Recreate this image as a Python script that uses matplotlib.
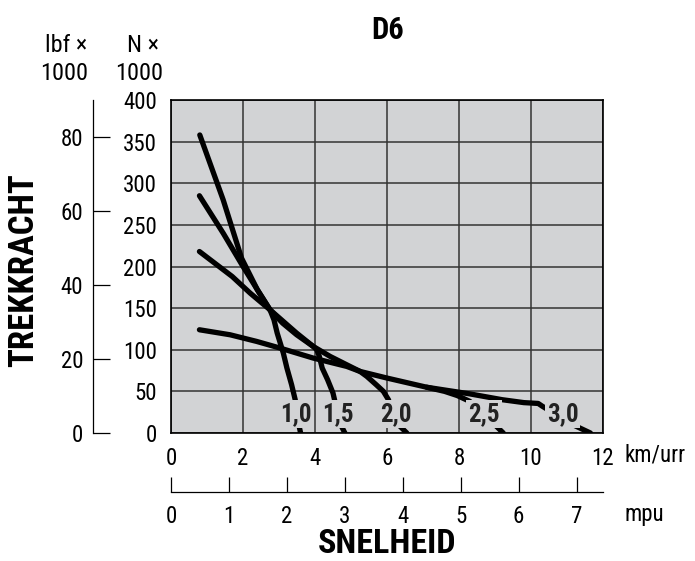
import matplotlib
matplotlib.use('Agg')
import matplotlib.pyplot as plt

plt.rcParams['font.family'] = ['Liberation Sans Narrow', 'DejaVu Sans Condensed',
                               'Roboto Condensed', 'Liberation Sans', 'DejaVu Sans']

# tractive force (kN) vs speed (km/h), one curve per gear
gear_labels = ['1,0', '1,5', '2,0', '2,5', '3,0']

speed_10 = [0.80, 1.45, 1.96, 2.40, 2.75, 2.86, 2.95, 3.12, 3.22, 3.35, 3.45, 3.54, 3.60]
force_10 = [358, 280, 210, 172, 148, 136, 120, 96, 78, 58, 40, 12, 0]

speed_15 = [0.79, 1.45, 2.00, 2.40, 2.75, 3.10, 3.49, 3.95, 4.05, 4.12, 4.20, 4.35, 4.50, 4.69, 4.83]
force_15 = [285, 240, 200, 172, 148, 132, 118, 104, 100, 92, 78, 64, 48, 12, 0]

speed_20 = [0.79, 1.70, 2.20, 2.75, 3.49, 3.95, 4.42, 4.88, 5.25, 5.44, 5.70, 5.90, 6.04, 6.27, 6.55]
force_20 = [218, 188, 168, 148, 120, 104, 92, 82, 74, 68, 58, 50, 40, 12, 0]

speed_25 = [7.10, 7.60, 7.95, 8.30, 9.05, 9.23]
force_25 = [55, 50, 45, 38, 7.6, 0]

speed_30 = [0.79, 1.64, 2.38, 3.03, 3.95, 4.88, 5.25, 6.00, 7.10, 8.30, 9.20, 9.80, 10.20, 10.32, 11.18, 11.65]
force_30 = [124, 118, 110, 102, 90, 80, 74, 66, 55, 47, 40, 36.5, 35.5, 32, 9.6, 0]

# where the gear labels sit (km/h, kN)
label_x = [3.47, 4.65, 6.25, 8.70, 10.88]
label_y = [23, 23, 23, 23, 23]

kmh_ticks = [0, 2, 4, 6, 8, 10, 12]
kn_ticks = [0, 50, 100, 150, 200, 250, 300, 350, 400]
mph_ticks = [0, 1, 2, 3, 4, 5, 6, 7]
klbf_ticks = [0, 20, 40, 60, 80]

KMH_PER_MPH = 1.609344
KN_PER_KLBF = 4.448222

bg = '#d2d3d5'
fs = 16.5

fig = plt.figure(figsize=(6.95, 5.61), dpi=100)
ax = fig.add_axes([171 / 695, 1 - 433 / 561, 432 / 695, 333 / 561])
ax.set_facecolor(bg)
ax.set_xlim(0, 12)
ax.set_ylim(0, 400)
ax.set_xticks(kmh_ticks)
ax.set_yticks(kn_ticks)
ax.grid(True, color='#333333', linewidth=1.1)
ax.set_axisbelow(True)
for s in ax.spines.values():
    s.set_linewidth(1.2)
ax.tick_params(axis='both', length=0, labelsize=fs)
ax.tick_params(axis='x', pad=10)
ax.tick_params(axis='y', pad=10)

curves = [(speed_10, force_10), (speed_15, force_15), (speed_20, force_20),
          (speed_25, force_25), (speed_30, force_30)]
for xs, ys in curves:
    ax.plot(xs, ys, color='black', linewidth=3.8, solid_capstyle='round',
            solid_joinstyle='round', zorder=3)

for lab, lx, ly in zip(gear_labels, label_x, label_y):
    ax.text(lx, ly, lab, ha='center', va='center', fontsize=18, fontweight='bold',
            color='#222222', zorder=4,
            bbox=dict(facecolor=bg, edgecolor='none', pad=1.5))

# mph axis below
sec_x = ax.secondary_xaxis(-0.177, functions=(lambda v: v / KMH_PER_MPH,
                                              lambda v: v * KMH_PER_MPH))
sec_x.set_xticks(mph_ticks)
sec_x.tick_params(direction='in', length=10.5, width=0.9, labelsize=fs, pad=9.5)
sec_x.spines['bottom'].set_linewidth(0.9)

# lbf axis on the far left
sec_y = ax.secondary_yaxis(-0.1806, functions=(lambda v: v / KN_PER_KLBF,
                                               lambda v: v * KN_PER_KLBF))
sec_y.set_yticks(klbf_ticks)
sec_y.tick_params(direction='in', length=12, width=0.9, labelsize=fs, pad=7)
sec_y.spines['left'].set_linewidth(0.9)

fig.text(625 / 695, 1 - 455 / 561, 'km/urr', fontsize=fs, va='center', ha='left')
fig.text(625 / 695, 1 - 514 / 561, 'mpu', fontsize=fs, va='center', ha='left')

fig.text(87 / 695, 1 - 45 / 561, 'lbf ×', fontsize=17.5, va='center', ha='right')
fig.text(88 / 695, 1 - 73 / 561, '1000', fontsize=17.5, va='center', ha='right')
fig.text(159 / 695, 1 - 45 / 561, 'N ×', fontsize=17.5, va='center', ha='right')
fig.text(163 / 695, 1 - 73 / 561, '1000', fontsize=17.5, va='center', ha='right')

fig.text(388 / 695, 1 - 30 / 561, 'D6', fontsize=22, fontweight='bold', ha='center', va='center')
fig.text(387 / 695, 1 - 560 / 561, 'SNELHEID', fontsize=24.5, fontweight='bold',
         ha='center', va='bottom')
fig.text(24 / 695, 1 - 270 / 561, 'TREKKRACHT', fontsize=25, fontweight='bold', rotation=90,
         ha='center', va='center')

fig.savefig('out.png', dpi=100)
